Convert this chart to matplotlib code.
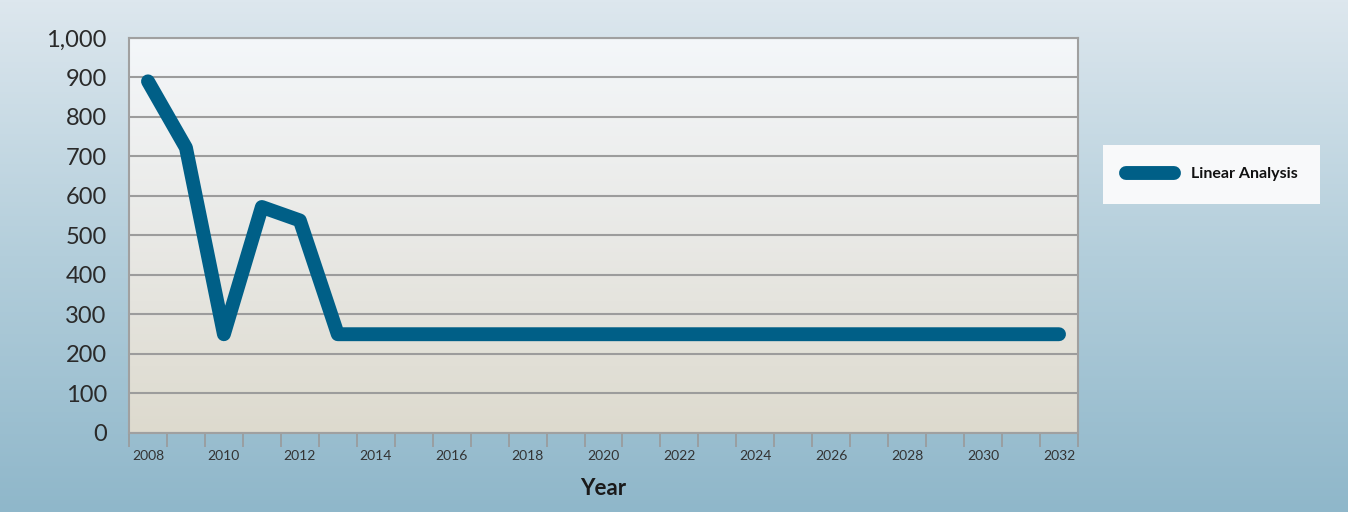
import numpy as np
import matplotlib.pyplot as plt
from matplotlib.colors import LinearSegmentedColormap

plt.rcParams['font.family'] = ['Lato', 'DejaVu Sans']

# Data
years = list(range(2008, 2033))
values = [890, 722, 250, 572, 538] + [250] * 20
series_name = 'Linear Analysis'
y_ticks = [0, 100, 200, 300, 400, 500, 600, 700, 800, 900, 1000]

line_color = '#005f87'
grid_color = '#9c9c9c'

fig = plt.figure(figsize=(13.48, 5.12), dpi=100)

# figure background gradient
bg = fig.add_axes([0, 0, 1, 1], zorder=-10)
bg_cmap = LinearSegmentedColormap.from_list('bg', ['#dde7ee', '#b3cedb', '#8fb7ca'])
bg.imshow(np.linspace(0, 1, 256).reshape(-1, 1), cmap=bg_cmap, aspect='auto',
          extent=[0, 1, 0, 1])
bg.axis('off')

ax = fig.add_axes([0.0957, 0.1543, 0.7040, 0.7717])
pa_cmap = LinearSegmentedColormap.from_list('pa', ['#f4f7fa', '#e9e9e6', '#dddace'])
ax.imshow(np.linspace(0, 1, 256).reshape(-1, 1), cmap=pa_cmap, aspect='auto',
          extent=[0, 1, 0, 1], transform=ax.transAxes, zorder=0)

x = np.arange(len(years))
ax.plot(x, values, color=line_color, lw=10, solid_capstyle='round',
        solid_joinstyle='round', label=series_name, zorder=3)

ax.set_xlim(-0.5, len(years) - 0.5)
ax.set_ylim(0, 1000)
ax.set_yticks(y_ticks)
ax.set_yticklabels([f'{v:,}' for v in y_ticks], fontsize=17, color='#2a2a2a')
ax.yaxis.grid(True, color=grid_color, lw=1.5, zorder=1)
ax.set_axisbelow(True)
ax.tick_params(axis='y', length=0, pad=16)

ax.set_xticks(x[::2])
ax.set_xticklabels([str(y) for y in years[::2]], fontsize=10, color='#333333')
ax.set_xticks(np.arange(-0.5, len(years)), minor=True)
ax.tick_params(axis='x', which='major', length=0, pad=12)
ax.tick_params(axis='x', which='minor', length=10, width=1.2, color='#9a9a9a')

for s in ax.spines.values():
    s.set_color('#a0a0a0')
    s.set_linewidth(1.5)

ax.set_xlabel('Year', fontsize=16, fontweight='bold', color='#1a1a1a')
ax.xaxis.set_label_coords(0.5, -0.115)

leg = ax.legend(loc='center left', bbox_to_anchor=(0.8125, 0.66),
                bbox_transform=fig.transFigure, frameon=True, fancybox=False,
                handlelength=3.0, handletextpad=1.1, borderpad=1.4,
                prop={'weight': 'bold', 'size': 11.5})
leg.get_frame().set_facecolor('#f8f9fa')
leg.get_frame().set_edgecolor('none')
leg.get_frame().set_alpha(1)
for t in leg.get_texts():
    t.set_color('#111111')

fig.savefig('out.png', dpi=100)
